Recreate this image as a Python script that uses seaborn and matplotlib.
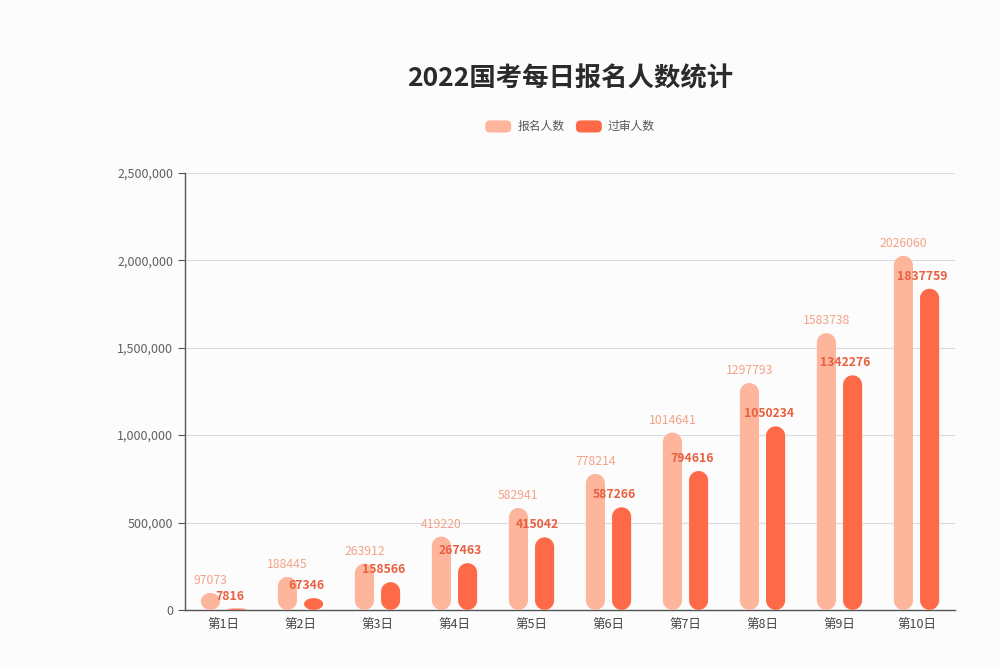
import matplotlib
matplotlib.use("Agg")
import matplotlib.pyplot as plt
from matplotlib.patches import FancyBboxPatch, Patch, Polygon
from matplotlib.legend_handler import HandlerPatch
from matplotlib.ticker import FuncFormatter, MultipleLocator
import seaborn as sns
import pandas as pd
import numpy as np

# data
days = ['第1日', '第2日', '第3日', '第4日', '第5日', '第6日', '第7日', '第8日', '第9日', '第10日']
signup = [97073, 188445, 263912, 419220, 582941, 778214, 1014641, 1297793, 1583738, 2026060]
approved = [7816, 67346, 158566, 267463, 415042, 587266, 794616, 1050234, 1342276, 1837759]
series = ['报名人数', '过审人数']
colors = ['#fdb59b', '#fe6a48']
label_colors = ['#f2a488', '#e8603f']

df = pd.DataFrame({
    'day': days * 2,
    'count': signup + approved,
    'kind': [series[0]] * len(days) + [series[1]] * len(days),
})

sns.set_style("white")
plt.rcParams['font.family'] = ['Noto Sans CJK SC', 'DejaVu Sans']

fig = plt.figure(figsize=(10, 6.68), dpi=100)
fig.patch.set_facecolor('#fcfcfd')
ax = fig.add_axes([0.185, 0.087, 0.77, 0.654])
ax.set_facecolor('#fcfcfd')

sns.barplot(ax=ax, data=df, x='day', y='count', hue='kind', hue_order=series,
            palette=colors, width=0.68, gap=0.27, legend=False, saturation=1)

ax.set_xlim(-0.5, 9.5)
ax.set_ylim(0, 2500000)

# capsule-shaped bars, outlined from the bars seaborn placed
px_x = ax.bbox.width / 10.0
px_y = ax.bbox.height / 2500000.0
aspect = px_x / px_y
t = np.linspace(0, np.pi, 40)
for ci, cont in enumerate(ax.containers):
    for bar in cont:
        x0, y0 = bar.get_x(), bar.get_y()
        w, h = bar.get_width(), bar.get_height()
        xc = x0 + w / 2
        ry = min(w / 2 * aspect, h / 2)
        top = np.column_stack([xc + w / 2 * np.cos(t), y0 + h - ry + ry * np.sin(t)])
        bot = np.column_stack([xc - w / 2 * np.cos(t), y0 + ry - ry * np.sin(t)])
        ax.add_patch(Polygon(np.vstack([top, bot]), closed=True,
                             facecolor=bar.get_facecolor(), edgecolor='none', zorder=3))
        bar.set_visible(False)
        xoff = 0 if ci == 0 else -5
        ax.annotate(f"{int(h)}", (xc, h), xytext=(xoff, 9),
                    textcoords='offset points', ha='center', va='center',
                    fontsize=8.8, color=label_colors[ci],
                    fontweight='normal' if ci == 0 else 'bold', zorder=4)

ax.yaxis.set_major_locator(MultipleLocator(500000))
ax.yaxis.set_major_formatter(FuncFormatter(lambda v, p: f"{int(v):,}"))
ax.grid(axis='y', color='#dcdce0', linewidth=0.8, zorder=0)
ax.set_axisbelow(True)

ax.set_xticks(range(len(days)))
ax.set_xticklabels(days)
ax.set_xticks(np.arange(-0.5, 10, 1), minor=True)
ax.tick_params(axis='x', which='major', length=0, pad=6, labelsize=9, labelcolor='#444444')
ax.tick_params(axis='x', which='minor', length=5, color='#555555', width=0.8, direction='out')
ax.tick_params(axis='y', length=5, color='#555555', width=0.8, labelsize=9,
               labelcolor='#606060', left=True)
ax.set_xlabel('')
ax.set_ylabel('')

for side in ['top', 'right']:
    ax.spines[side].set_visible(False)
for side in ['left', 'bottom']:
    ax.spines[side].set_color('#555555')
    ax.spines[side].set_linewidth(1.0)

fig.text(0.57, 0.882, '2022国考每日报名人数统计', ha='center', va='center',
         fontsize=19, fontweight='bold', color='#2a2a2a')


def round_handle(legend, orig_handle, xdescent, ydescent, width, height, fontsize):
    return FancyBboxPatch((-xdescent, -ydescent), width, height,
                          boxstyle=f"round,pad=0,rounding_size={height / 2.5}")


handles = [Patch(facecolor=c, edgecolor='none') for c in colors]
fig.legend(handles, series, loc='center', bbox_to_anchor=(0.57, 0.81), ncol=2,
           frameon=False, fontsize=8.5, handlelength=2.2, handleheight=1.2,
           columnspacing=1.0, handletextpad=0.5, labelcolor='#555555',
           handler_map={Patch: HandlerPatch(patch_func=round_handle)})

plt.savefig('out.png', dpi=100, facecolor=fig.get_facecolor())
